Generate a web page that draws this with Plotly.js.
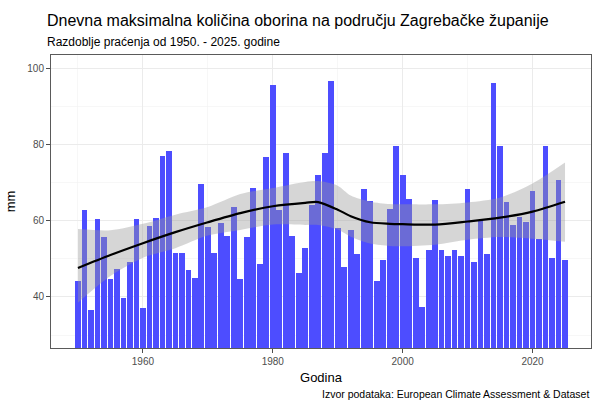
<!DOCTYPE html>
<html>
<head>
<meta charset="utf-8">
<script src="https://cdn.plot.ly/plotly-3.0.1.min.js"></script>
<style>
html,body{margin:0;padding:0;background:#fff;}
#chart{width:594px;height:401px;}
</style>
</head>
<body>
<div id="chart"></div>
<script>
// Years and daily maximum precipitation (mm)
const years = [];
for (let y = 1950; y <= 2025; y++) years.push(y);
const maxPrecip = [
  44.1, 62.8, 36.7, 60.4, 55.8, 44.8, 47.4, 39.6, 49.3, 60.4,
  37.0, 58.7, 60.8, 77.1, 78.2, 51.6, 51.6, 47.0, 45.1, 69.7,
  58.4, 51.6, 59.3, 56.0, 63.7, 44.8, 55.8, 68.7, 48.6, 76.8,
  95.7, 62.7, 77.7, 56.1, 46.3, 52.9, 64.1, 72.1, 77.7, 96.8,
  58.1, 47.8, 57.6, 51.3, 68.3, 65.3, 44.1, 49.7, 63.0, 79.7,
  72.1, 65.8, 50.2, 37.4, 52.4, 65.5, 52.4, 50.8, 52.2, 50.8,
  68.4, 49.3, 60.3, 51.3, 96.1, 79.6, 65.0, 58.9, 60.9, 59.7,
  67.7, 55.2, 79.7, 50.2, 70.7, 49.8
];

// Smoothed trend and its confidence band
const smoothYears = [1950, 1955, 1960, 1965, 1970, 1975, 1980, 1985, 1987, 1990, 1992, 1995, 1998, 2000, 2005, 2010, 2015, 2020, 2025];
const smoothFit   = [47.6, 51.0, 54.1, 57.0, 59.6, 62.0, 63.8, 64.7, 64.9, 62.9, 61.2, 59.6, 59.2, 59.1, 59.0, 59.8, 60.8, 62.4, 65.0];
const smoothLow   = [38.5, 45.5, 50.3, 52.8, 56.1, 57.6, 59.0, 58.9, 58.9, 57.7, 55.8, 54.0, 53.4, 53.3, 53.7, 55.0, 55.7, 55.3, 54.5];
const smoothHigh  = [57.8, 57.5, 59.2, 61.6, 63.6, 67.0, 68.6, 70.2, 70.4, 69.2, 66.6, 65.0, 64.4, 64.3, 64.3, 64.8, 66.1, 69.8, 75.3];

const xTicks = [1960, 1980, 2000, 2020];
const yTicks = [40, 60, 80, 100];

const FONT = '"Liberation Sans", Arial, sans-serif';

const traces = [
  {
    type: 'bar', x: years, y: maxPrecip, width: 0.88,
    marker: {color: 'rgb(77,77,255)', line: {width: 0}},
    hoverinfo: 'x+y', showlegend: false
  },
  {
    type: 'scatter', mode: 'lines', x: smoothYears, y: smoothLow,
    line: {width: 0, shape: 'spline', smoothing: 0.8}, hoverinfo: 'skip', showlegend: false
  },
  {
    type: 'scatter', mode: 'lines', x: smoothYears, y: smoothHigh, fill: 'tonexty',
    fillcolor: 'rgba(153,153,153,0.4)',
    line: {width: 0, shape: 'spline', smoothing: 0.8}, hoverinfo: 'skip', showlegend: false
  },
  {
    type: 'scatter', mode: 'lines', x: smoothYears, y: smoothFit,
    line: {color: '#000000', width: 2.2, shape: 'spline', smoothing: 0.8}, showlegend: false
  }
];

const axisCommon = {
  showline: true, mirror: true, linecolor: '#5a5a5a', linewidth: 1,
  ticks: 'outside', ticklen: 4, tickcolor: '#4d4d4d', tickwidth: 1,
  gridcolor: '#ebebeb', gridwidth: 1, zeroline: false,
  tickfont: {family: FONT, size: 10, color: '#4d4d4d'}
};

const layout = {
  width: 594, height: 401,
  margin: {l: 51, r: 3, t: 55, b: 53},
  paper_bgcolor: '#ffffff', plot_bgcolor: '#ffffff',
  bargap: 0,
  font: {family: FONT},
  xaxis: Object.assign({}, axisCommon, {
    range: [1945.85, 2029.0], tickvals: xTicks, ticktext: xTicks.map(String),
    minor: {tickvals: [1950, 1970, 1990, 2010], showgrid: true, gridcolor: '#f2f2f2', gridwidth: 0.6, ticks: ''},
    title: {text: 'Godina', font: {family: FONT, size: 13, color: '#000'}, standoff: 6}
  }),
  yaxis: Object.assign({}, axisCommon, {
    range: [26.6, 103.5], tickvals: yTicks, ticktext: yTicks.map(String),
    minor: {tickvals: [30, 50, 70, 90], showgrid: true, gridcolor: '#f2f2f2', gridwidth: 0.6, ticks: ''},
    title: {text: 'mm', font: {family: FONT, size: 13, color: '#000'}, standoff: 8}
  }),
  annotations: [
    {text: 'Dnevna maksimalna količina oborina na području Zagrebačke županije',
     xref: 'paper', yref: 'paper', x: -6/540, y: 1 + 35/293, xanchor: 'left', yanchor: 'middle',
     showarrow: false, font: {family: FONT, size: 16, color: '#000'}},
    {text: 'Razdoblje praćenja od 1950. - 2025. godine',
     xref: 'paper', yref: 'paper', x: -6/540, y: 1 + 13/293, xanchor: 'left', yanchor: 'middle',
     showarrow: false, font: {family: FONT, size: 12, color: '#000'}},
    {text: 'Izvor podataka: European Climate Assessment & Dataset',
     xref: 'paper', yref: 'paper', x: 1, y: -46/293, xanchor: 'right', yanchor: 'middle',
     showarrow: false, font: {family: FONT, size: 10.5, color: '#000'}}
  ]
};

Plotly.newPlot('chart', traces, layout, {displayModeBar: false, staticPlot: true});
</script>
</body>
</html>
